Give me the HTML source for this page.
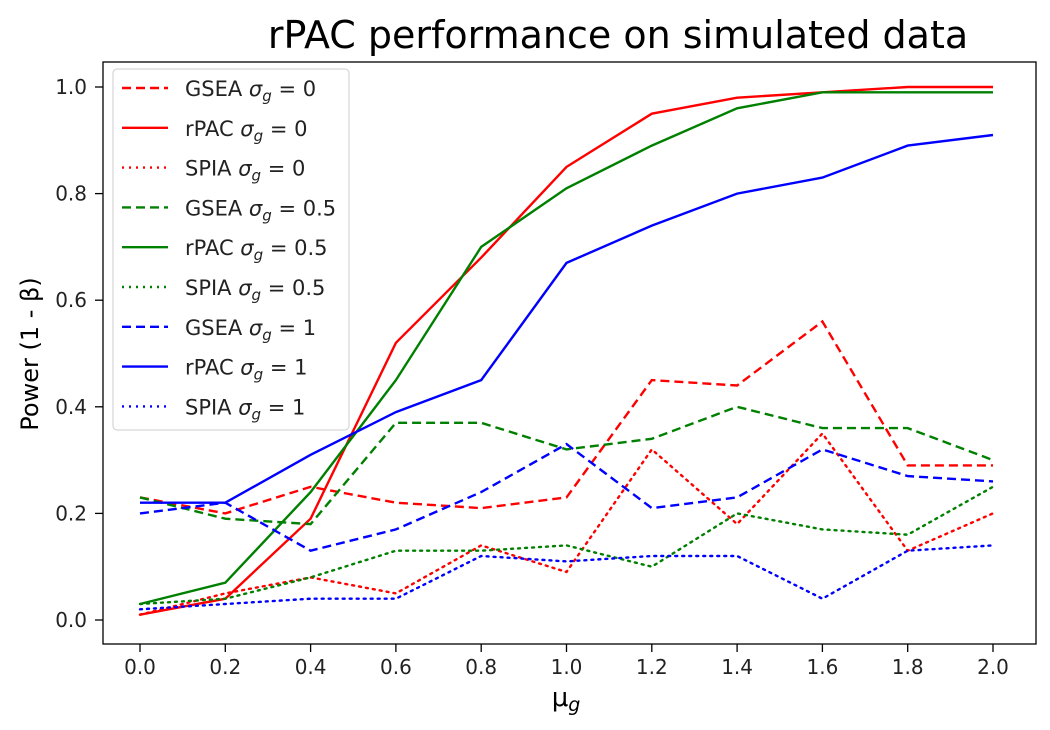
<!DOCTYPE html>
<html><head><meta charset="utf-8"><style>
body{margin:0;background:#fff;width:1050px;height:726px;overflow:hidden;font-family:"DejaVu Sans","Liberation Sans",sans-serif}
</style></head><body>
<svg id="chart" width="1050" height="726" xmlns="http://www.w3.org/2000/svg" font-family="DejaVu Sans, Liberation Sans, sans-serif"></svg>
<script>
const xValues=[0,0.2,0.4,0.6,0.8,1.0,1.2,1.4,1.6,1.8,2.0];
const xTicks=["0.0","0.2","0.4","0.6","0.8","1.0","1.2","1.4","1.6","1.8","2.0"];
const yTicks=[0,0.2,0.4,0.6,0.8,1.0];
const gsea0=[0.23,0.20,0.25,0.22,0.21,0.23,0.45,0.44,0.56,0.29,0.29];
const rpac0=[0.01,0.04,0.19,0.52,0.68,0.85,0.95,0.98,0.99,1.0,1.0];
const spia0=[0.01,0.05,0.08,0.05,0.14,0.09,0.32,0.18,0.35,0.13,0.20];
const gsea05=[0.23,0.19,0.18,0.37,0.37,0.32,0.34,0.40,0.36,0.36,0.30];
const rpac05=[0.03,0.07,0.24,0.45,0.70,0.81,0.89,0.96,0.99,0.99,0.99];
const spia05=[0.03,0.04,0.08,0.13,0.13,0.14,0.10,0.20,0.17,0.16,0.25];
const gsea1=[0.20,0.22,0.13,0.17,0.24,0.33,0.21,0.23,0.32,0.27,0.26];
const rpac1=[0.22,0.22,0.31,0.39,0.45,0.67,0.74,0.80,0.83,0.89,0.91];
const spia1=[0.02,0.03,0.04,0.04,0.12,0.11,0.12,0.12,0.04,0.13,0.14];
const seriesNames=["GSEA","rPAC","SPIA","GSEA","rPAC","SPIA","GSEA","rPAC","SPIA"];
const sigmaLabels=["0","0","0","0.5","0.5","0.5","1","1","1"];

const NS="http://www.w3.org/2000/svg";
const svg=document.getElementById('chart');
const L=103,R=1036,T=62,B=644;
const xs=v=>140+(v/2)*(993-140);
const ys=v=>620-v*(620-87);
function mk(tag,attrs,parent){const e=document.createElementNS(NS,tag);for(const k in attrs)e.setAttribute(k,attrs[k]);(parent||svg).appendChild(e);return e;}

const title=mk('text',{x:618,y:48,'text-anchor':'middle','font-size':38,fill:'#000'});
title.textContent='rPAC performance on simulated data';



const frame=mk('rect',{x:L,y:T,width:R-L,height:B-T,fill:'none',stroke:'#000','stroke-width':1.3});



xValues.forEach((v,i)=>{
  const t=mk('line',{x1:xs(v),x2:xs(v),y1:B,y2:B+8,stroke:'#000','stroke-width':1.3});
  
  
  const tx=mk('text',{x:xs(v),y:B+30,'text-anchor':'middle','font-size':20,fill:'#222'});
  tx.textContent=xTicks[i];
  
  
});
yTicks.forEach(v=>{
  const t=mk('line',{x1:L-8,x2:L,y1:ys(v),y2:ys(v),stroke:'#000','stroke-width':1.3});
  
  
  const tx=mk('text',{x:L-16,y:ys(v)+7,'text-anchor':'end','font-size':20,fill:'#222'});
  tx.textContent=v.toFixed(1);
  
  
});
const yl=mk('text',{x:38,y:354,'text-anchor':'middle','font-size':24,fill:'#000',transform:'rotate(-90 38 354)'});
yl.textContent='Power (1 - β)';


const xl=mk('text',{x:566,y:706,'text-anchor':'middle','font-size':26,fill:'#000'});
xl.innerHTML='μ<tspan font-size="19" dy="5" font-style="italic">g</tspan>';



const allSeries=[gsea0,rpac0,spia0,gsea05,rpac05,spia05,gsea1,rpac1,spia1];
const colors=['#ff0000','#ff0000','#ff0000','#008000','#008000','#008000','#0000ff','#0000ff','#0000ff'];
const dashes=['9,5','none','2,5','9,5','none','2,5','9,5','none','2,5'];
allSeries.forEach((s,i)=>{
  const d=s.map((v,j)=>(j?'L':'M')+xs(xValues[j]).toFixed(1)+','+ys(v).toFixed(1)).join(' ');
  const p=mk('path',{d:d,fill:'none',stroke:colors[i],'stroke-width':2.4,'stroke-dasharray':dashes[i],'stroke-linecap':dashes[i]==='2,5'?'round':'butt'});
  
  
});

const lg=mk('g',{});


mk('rect',{x:113,y:69,width:236,height:361,rx:4,fill:'#fff','fill-opacity':0.85,stroke:'#ccc','stroke-width':1},lg);
seriesNames.forEach((n,i)=>{
  const y=88+i*39.8;
  const ln=mk('line',{x1:122,x2:168,y1:y,y2:y,stroke:colors[i],'stroke-width':2.4,'stroke-dasharray':dashes[i]},lg);
  
  
  const t=mk('text',{x:185,y:y+8,'font-size':21,fill:'#222'},lg);
  t.innerHTML=n+' <tspan font-style="italic">σ</tspan><tspan font-style="italic" font-size="15" dy="5">g</tspan><tspan dy="-5"> = '+sigmaLabels[i]+'</tspan>';
  
  
});
</script>
</body></html>
